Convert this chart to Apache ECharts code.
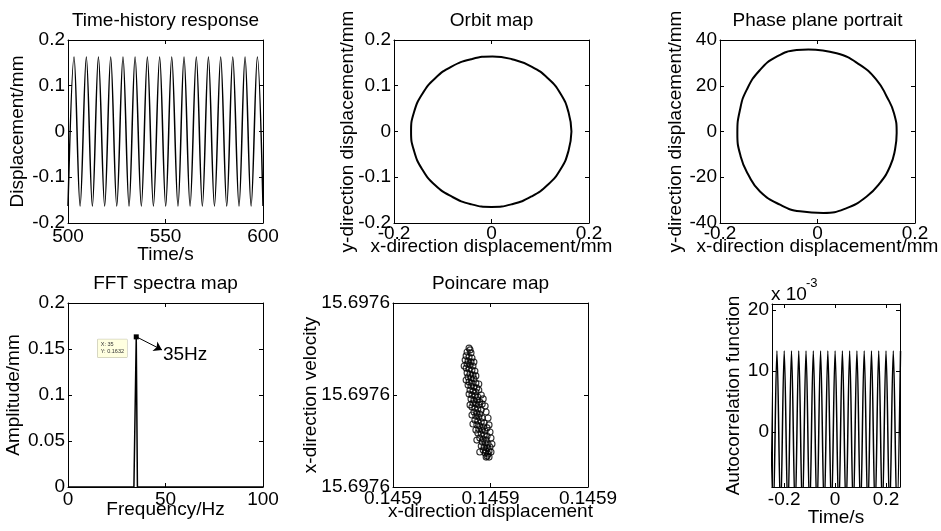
<!DOCTYPE html>
<html>
<head>
<meta charset="utf-8">
<script src="https://cdn.jsdelivr.net/npm/echarts@6/dist/echarts.min.js"></script>
<style>
  html, body { margin: 0; padding: 0; background: #fff; }
  #chart { width: 941px; height: 531px; }
</style>
</head>
<body>
<div id="chart"></div>
<script>
// Time-history response: peak / trough vertices
const timeT = [500.0, 503.1, 506.2, 509.4, 512.5, 515.6, 518.8, 521.9, 525.0, 528.2, 531.3,
    534.4, 537.6, 540.7, 543.8, 547.0, 550.1, 553.2, 556.4, 559.5, 562.6, 565.8, 568.9,
    572.0, 575.1, 578.3, 581.4, 584.5, 587.7, 590.8, 593.9, 597.1, 600.0];
const timeY = [-0.163, 0.163, -0.163, 0.163, -0.163, 0.163, -0.163, 0.163, -0.163, 0.163, -0.163,
    0.163, -0.163, 0.163, -0.163, 0.163, -0.163, 0.163, -0.163, 0.163, -0.163, 0.163, -0.163,
    0.163, -0.163, 0.163, -0.163, 0.163, -0.163, 0.163, -0.163, 0.163, -0.163];

// Orbit map
const orbitX = [0.164, 0.158, 0.142, 0.116, 0.082, 0.042, 0.002, -0.042, -0.082, -0.116, -0.142, -0.159,
    -0.165, -0.159, -0.142, -0.116, -0.082, -0.042, 0.000, 0.042, 0.082, 0.116, 0.142, 0.158, 0.164];
const orbitY = [0.000, 0.042, 0.082, 0.116, 0.142, 0.158, 0.164, 0.158, 0.142, 0.116, 0.082, 0.042,
    0.000, -0.042, -0.083, -0.117, -0.142, -0.159, -0.165, -0.159, -0.142, -0.116, -0.082, -0.042, 0.000];

// Phase plane portrait
const phaseX = [-0.0188, 0.0393, 0.0872, 0.1214, 0.1419, 0.1569, 0.1624, 0.1590, 0.1487, 0.1282, 0.1009, 0.0598,
    0.0120, -0.0359, -0.0769, -0.1180, -0.1419, -0.1576, -0.1644, -0.1590, -0.1453, -0.1180, -0.0838, -0.0427, -0.0188];
const phaseY = [35.9, 34.2, 29.1, 22.5, 15.3, 8.0, -0.7, -8.0, -15.3, -22.5, -28.4, -33.5,
    -35.6, -34.9, -32.0, -26.2, -18.9, -10.9, -0.7, 9.5, 18.2, 26.9, 32.7, 35.6, 35.9];

// FFT spectrum
const fftFreq = [0, 33.8, 35, 35.6, 100];
const fftAmp = [0, 0, 0.1632, 0, 0];

// Poincare map
const poinX = [0.1458956, 0.1458958, 0.1458952, 0.1458960, 0.1458950, 0.1458956, 0.1458962, 0.1458948,
    0.1458954, 0.1458960, 0.1458952, 0.1458958, 0.1458964, 0.1458950, 0.1458956, 0.1458962, 0.1458968,
    0.1458952, 0.1458958, 0.1458964, 0.1458954, 0.1458960, 0.1458966, 0.1458950, 0.1458956, 0.1458962,
    0.1458970, 0.1458954, 0.1458960, 0.1458966, 0.1458972, 0.1458958, 0.1458964, 0.1458970, 0.1458956,
    0.1458962, 0.1458968, 0.1458974, 0.1458960, 0.1458966, 0.1458972, 0.1458978, 0.1458964, 0.1458970,
    0.1458976, 0.1458962, 0.1458968, 0.1458974, 0.1458981, 0.1458966, 0.1458972, 0.1458978, 0.1458970,
    0.1458976, 0.1458983, 0.1458968, 0.1458974, 0.1458981, 0.1458987, 0.1458972, 0.1458978, 0.1458985,
    0.1458976, 0.1458983, 0.1458989, 0.1458974, 0.1458981, 0.1458987, 0.1458993, 0.1458978, 0.1458985,
    0.1458991, 0.1458983, 0.1458989, 0.1458995, 0.1458981, 0.1458987, 0.1458993, 0.1458999, 0.1458985,
    0.1458991, 0.1458997, 0.1458989, 0.1458995, 0.1458993, 0.1458997,
    0.1458976, 0.1458981, 0.1458985, 0.1458989, 0.1458991, 0.1458995, 0.1458997, 0.1458999, 0.1459001,
    0.1459003, 0.1458958, 0.1458962, 0.1458964, 0.1458970, 0.1458972, 0.1458978, 0.1458991, 0.1459001,
    0.1458946, 0.1458966, 0.1458970, 0.1458976, 0.1458983, 0.1458993];
const poinY = [15.6976204, 15.6976196, 15.6976187, 15.6976183, 15.6976170, 15.6976165, 15.6976161, 15.6976152,
    15.6976148, 15.6976143, 15.6976135, 15.6976130, 15.6976126, 15.6976117, 15.6976113, 15.6976109, 15.6976104,
    15.6976096, 15.6976091, 15.6976087, 15.6976078, 15.6976074, 15.6976070, 15.6976065, 15.6976057, 15.6976052,
    15.6976052, 15.6976043, 15.6976039, 15.6976035, 15.6976030, 15.6976022, 15.6976017, 15.6976013, 15.6976004,
    15.6976000, 15.6975996, 15.6975991, 15.6975983, 15.6975978, 15.6975978, 15.6975970, 15.6975965, 15.6975961,
    15.6975957, 15.6975948, 15.6975943, 15.6975939, 15.6975935, 15.6975926, 15.6975922, 15.6975917, 15.6975909,
    15.6975904, 15.6975900, 15.6975891, 15.6975887, 15.6975883, 15.6975878, 15.6975870, 15.6975865, 15.6975861,
    15.6975852, 15.6975848, 15.6975843, 15.6975835, 15.6975830, 15.6975826, 15.6975822, 15.6975813, 15.6975809,
    15.6975804, 15.6975796, 15.6975791, 15.6975787, 15.6975778, 15.6975774, 15.6975770, 15.6975774, 15.6975761,
    15.6975757, 15.6975757, 15.6975748, 15.6975743, 15.6975735, 15.6975730,
    15.6976022, 15.6976000, 15.6975983, 15.6975952, 15.6975926, 15.6975900, 15.6975870, 15.6975839, 15.6975813,
    15.6975787, 15.6975957, 15.6975913, 15.6975874, 15.6975848, 15.6975804, 15.6975752, 15.6975730, 15.6975752,
    15.6976126, 15.6976143, 15.6976083, 15.6976048, 15.6975961, 15.6975857];

// Autocorrelation (values in units of 1e-3)
const acLag = [-0.2571, -0.2429, -0.2286, -0.2143, -0.2000, -0.1857, -0.1714, -0.1571, -0.1429, -0.1286,
    -0.1143, -0.1000, -0.0857, -0.0714, -0.0571, -0.0429, -0.0286, -0.0143, 0, 0.0143, 0.0286, 0.0429,
    0.0571, 0.0714, 0.0857, 0.1000, 0.1143, 0.1286, 0.1429, 0.1571, 0.1714, 0.1857, 0.2000, 0.2143,
    0.2286, 0.2429, 0.2571];
const acVal = [13.3, -13.3, 13.3, -13.3, 13.3, -13.3, 13.3, -13.3, 13.3, -13.3, 13.3, -13.3, 13.3,
    -13.3, 13.3, -13.3, 13.3, -13.3, 13.3, -13.3, 13.3, -13.3, 13.3, -13.3, 13.3, -13.3, 13.3, -13.3,
    13.3, -13.3, 13.3, -13.3, 13.3, -13.3, 13.3, -13.3, 13.3];

const FONT = 'Liberation Sans';
const grids = [], xAxes = [], yAxes = [], series = [];

function pairs(xs, ys) {
    return xs.map((x, i) => [x, ys[i]]);
}

function axis(extra, labelExtra, tickExtra) {
    return Object.assign({
        type: 'value',
        axisLine: { show: true, onZero: false, lineStyle: { color: '#000', width: 1 } },
        axisTick: Object.assign({ show: true, inside: true, length: 4, lineStyle: { color: '#000' } }, tickExtra),
        axisLabel: Object.assign({ show: true, color: '#000', fontSize: 19, fontFamily: FONT, margin: 3 }, labelExtra),
        splitLine: { show: false },
        nameLocation: 'middle',
        nameMoveOverlap: false,
        nameTextStyle: { color: '#000', fontSize: 19, fontFamily: FONT }
    }, extra);
}

// one subplot: box + labelled bottom/left axes + mirrored top/right axes
function addPanel(box, title, xa, ya) {
    const g = grids.length;
    grids.push({ left: box[0], top: box[1], width: box[2], height: box[3], containLabel: false, outerBoundsMode: 'none' });
    const xRange = { min: xa.min, max: xa.max, interval: xa.interval };
    const yRange = { min: ya.min, max: ya.max, interval: ya.interval };
    xAxes.push(axis(Object.assign({ gridIndex: g, position: 'bottom', name: xa.name, nameGap: xa.gap }, xRange),
        { margin: xa.margin, formatter: xa.fmt, customValues: xa.ticks }, { customValues: xa.ticks }));
    xAxes.push(axis(Object.assign({ gridIndex: g, position: 'top', name: title, nameGap: 10 }, xRange),
        { show: false, customValues: xa.ticks }, { customValues: xa.ticks }));
    yAxes.push(axis(Object.assign({ gridIndex: g, position: 'left', name: ya.name, nameGap: ya.gap }, yRange),
        { margin: 3, padding: [4, 0, 0, 0], formatter: ya.fmt, customValues: ya.ticks }, { customValues: ya.ticks }));
    yAxes.push(axis(Object.assign({ gridIndex: g, position: 'right' }, yRange),
        { show: false, customValues: ya.ticks }, { customValues: ya.ticks }));
    return 2 * g;
}

function lineSeries(idx, data, width, extra) {
    return Object.assign({
        type: 'line', xAxisIndex: idx, yAxisIndex: idx, data: data,
        showSymbol: false, clip: true, smooth: 0.5,
        lineStyle: { color: '#000', width: width }, itemStyle: { color: '#000' }
    }, extra);
}

// 1. Time-history response
let a = addPanel([68, 40, 195, 183], 'Time-history response',
    { min: 500, max: 600, interval: 50, name: 'Time/s', gap: 22, margin: 4 },
    { min: -0.2, max: 0.2, interval: 0.1, name: 'Displacement/mm', gap: 41 });
series.push(lineSeries(a, pairs(timeT, timeY), 1.5, { smooth: 0.35 }));

// 2. Orbit map
a = addPanel([394, 40, 195, 183], 'Orbit map',
    { min: -0.2, max: 0.2, interval: 0.2, name: 'x-direction displacement/mm', gap: 14, margin: 1 },
    { min: -0.2, max: 0.2, interval: 0.1, name: 'y-direction displacement/mm', gap: 37 });
series.push(lineSeries(a, pairs(orbitX, orbitY), 2));

// 3. Phase plane portrait
a = addPanel([720, 40, 195, 183], 'Phase plane portrait',
    { min: -0.2, max: 0.2, interval: 0.2, name: 'x-direction displacement/mm', gap: 14, margin: 1 },
    { min: -40, max: 40, interval: 20, name: 'y-direction displacement/mm', gap: 35 });
series.push(lineSeries(a, pairs(phaseX, phaseY), 2));

// 4. FFT spectra map
a = addPanel([68, 303, 195, 184], 'FFT spectra map',
    { min: 0, max: 100, interval: 50, name: 'Frequency/Hz', gap: 13, margin: 3 },
    { min: 0, max: 0.2, interval: 0.05, name: 'Amplitude/mm', gap: 45 });
series.push(lineSeries(a, pairs(fftFreq, fftAmp), 1.5, {
    smooth: false,
    markPoint: {
        silent: true,
        animation: false,
        data: [
            { coord: [35, 0.1632], symbol: 'rect', symbolSize: 5, itemStyle: { color: '#000' }, label: { show: false } },
            {
                coord: [35, 0.1632], symbol: 'rect', symbolSize: 1, itemStyle: { color: 'transparent' },
                label: {
                    show: true, formatter: 'X: 35\nY: 0.1632', position: [-38, 3], align: 'left', verticalAlign: 'top',
                    fontSize: 5.5, lineHeight: 7, color: '#333', fontFamily: FONT,
                    backgroundColor: '#ffffe0', borderColor: '#b8b8a0', borderWidth: 0.5, padding: [2, 3, 2, 3]
                }
            },
            {
                coord: [48.4, 0.149], symbol: 'rect', symbolSize: 1, itemStyle: { color: 'transparent' },
                label: { show: true, formatter: '35Hz', position: 'right', distance: 0, offset: [0, 5], fontSize: 19, color: '#000', fontFamily: FONT }
            }
        ]
    },
    markLine: {
        silent: true,
        animation: false,
        symbol: ['none', 'arrow'],
        symbolSize: 8,
        lineStyle: { color: '#000', width: 1, type: 'solid' },
        label: { show: false },
        data: [[{ coord: [35.5, 0.1628] }, { coord: [48.2, 0.149] }]]
    }
}));

// 5. Poincare map
a = addPanel([393, 303, 195, 184], 'Poincare map',
    { min: 0.14588, max: 0.14592, interval: 0.00002, name: 'x-direction displacement', gap: 15, margin: 2, fmt: v => v.toFixed(4) },
    { min: 15.69756, max: 15.69764, interval: 0.00004, name: 'x-direction velocity', gap: 73, fmt: v => v.toFixed(4) });
series.push({
    type: 'scatter', xAxisIndex: a, yAxisIndex: a, data: pairs(poinX, poinY),
    symbol: 'circle', symbolSize: 6,
    itemStyle: { color: 'transparent', borderColor: '#000', borderWidth: 1.1 }
});

// 6. Autocorrelation function
a = addPanel([772, 304, 128, 183], '',
    { min: -0.248, max: 0.255, ticks: [-0.2, 0, 0.2], name: 'Time/s', gap: 21, margin: 3 },
    { min: -9, max: 21, ticks: [0, 10, 20], name: 'Autocorrelation function', gap: 29 });
series.push(lineSeries(a, pairs(acLag, acVal), 1.5, { smooth: 0.35 }));

const chart = echarts.init(document.getElementById('chart'), null, { renderer: 'canvas' });
chart.setOption({
    animation: false,
    backgroundColor: '#fff',
    textStyle: { fontFamily: FONT },
    grid: grids,
    xAxis: xAxes,
    yAxis: yAxes,
    series: series,
    graphic: [
        { type: 'text', left: 771, top: 285, style: { text: 'x 10', fontSize: 19, fontFamily: FONT, fill: '#000' } },
        { type: 'text', left: 806, top: 277, style: { text: '-3', fontSize: 13, fontFamily: FONT, fill: '#000' } }
    ]
});
</script>
</body>
</html>
